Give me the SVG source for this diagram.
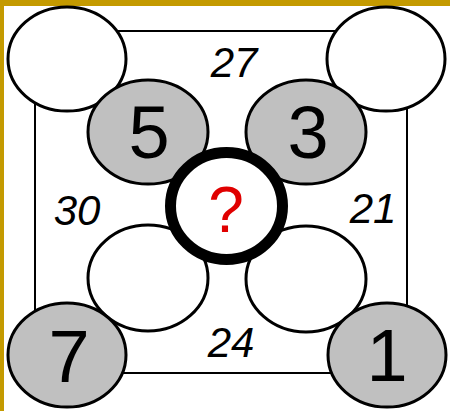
<svg xmlns="http://www.w3.org/2000/svg" width="450" height="411" viewBox="0 0 450 411">
<style>
.w{fill:#fff;stroke:#000;stroke-width:3}
.g{fill:#c0c0c0;stroke:#000;stroke-width:3}
.num{font-family:"Liberation Sans",Arial,sans-serif;font-size:74px;text-anchor:middle;fill:#000}
.lab{font-family:"Liberation Sans",Arial,sans-serif;font-size:42px;font-style:italic;text-anchor:middle;fill:#000}
</style>
<rect width="450" height="411" fill="#fff"/>
<rect x="0" y="0" width="450" height="6" fill="#c49a00"/>
<rect x="0" y="0" width="4" height="411" fill="#c49a00"/>
<g id="connectors">
<rect x="35" y="31" width="372" height="342" fill="none" stroke="#000" stroke-width="2"/>
</g>
<g id="tl"><ellipse class="w" cx="67" cy="59" rx="59" ry="52"/></g>
<g id="tr"><ellipse class="w" cx="386" cy="59" rx="59" ry="52"/></g>
<g id="n5"><ellipse class="g" cx="148" cy="132" rx="60" ry="52"/><text class="num" x="149" y="158">5</text></g>
<g id="n3"><ellipse class="g" cx="306" cy="132" rx="60" ry="52"/><text class="num" x="308" y="158">3</text></g>
<g id="bl"><ellipse class="w" cx="148" cy="278" rx="60" ry="53"/></g>
<g id="br"><ellipse class="w" cx="306" cy="279" rx="60" ry="53"/></g>
<g id="n7"><ellipse class="g" cx="67" cy="355" rx="59" ry="52"/><text class="num" x="69" y="382">7</text></g>
<g id="n1"><ellipse class="g" cx="387" cy="355" rx="59" ry="52"/><text class="num" x="387" y="381">1</text></g>
<g id="center"><ellipse cx="226.5" cy="206" rx="56" ry="53.5" fill="#fff" stroke="#000" stroke-width="11"/><text x="226" y="232" font-family="Liberation Sans,Arial,sans-serif" font-size="64" text-anchor="middle" fill="#e00000">?</text></g>
<g id="labels">
<text class="lab" x="234" y="77">27</text>
<text class="lab" x="77" y="225">30</text>
<text class="lab" x="373" y="223">21</text>
<text class="lab" x="231" y="357">24</text>
</g>
</svg>
